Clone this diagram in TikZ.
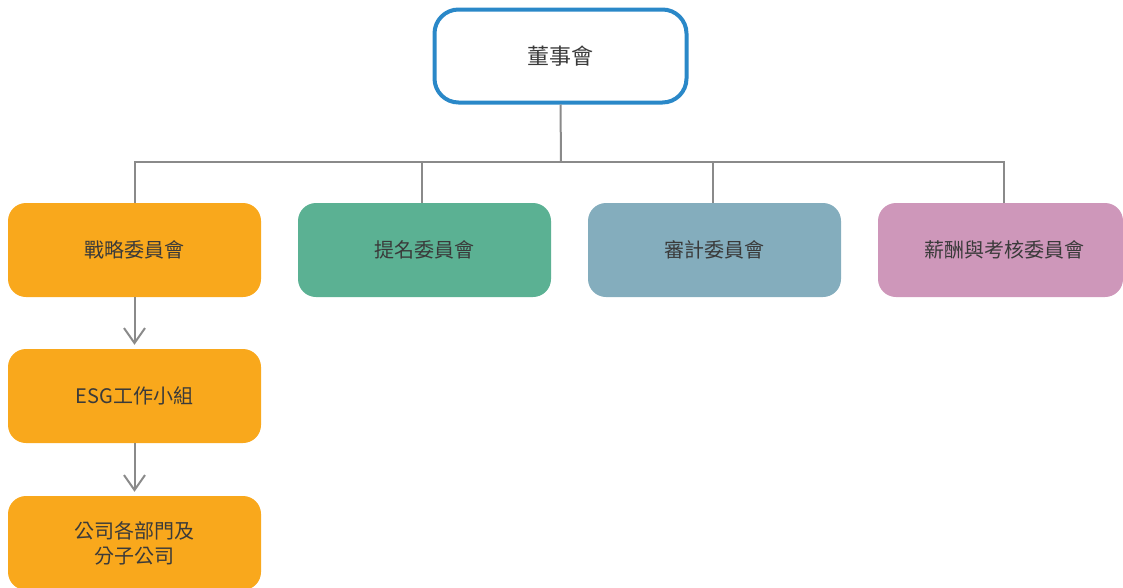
\documentclass[tikz,border=0pt]{standalone}
\usepackage{fontspec}
\newfontfamily\cjk{Noto Sans CJK TC}
\usetikzlibrary{arrows.meta}
\definecolor{topblue}{HTML}{2A88C8}
\definecolor{corange}{HTML}{F9A81C}
\definecolor{cgreen}{HTML}{5BB193}
\definecolor{cblue}{HTML}{84ADBD}
\definecolor{cpink}{HTML}{CE97BA}
\definecolor{lgray}{HTML}{8A8A8A}
\definecolor{tgray}{HTML}{3A3A3A}
\tikzset{
  boxbase/.style={rounded corners=18pt, minimum width=253pt, minimum height=94pt, inner sep=0pt,
     font=\cjk\fontsize{20pt}{25pt}\selectfont, text=tgray, align=center, anchor=center},
  topbox/.style={draw=topblue, line width=4pt, fill=white, rounded corners=24pt, minimum width=252pt,
     minimum height=93pt, inner sep=0pt, font=\cjk\fontsize{22pt}{25pt}\selectfont, text=tgray},
  conn/.style={draw=lgray, line width=2pt},
  arr/.style={conn, -{Straight Barb[length=15pt,width=20pt,line width=2pt,angle'=70]}},
}
\begin{document}
\begin{tikzpicture}[x=1pt,y=-1pt]
\useasboundingbox (0,0) rectangle (1123,587);
\begin{scope}
\clip (0,0) rectangle (1123,587);
\node[topbox] (board) at (560.5,56) {董事會};
\node[boxbase, fill=corange] (strat) at (134.5,250) {戰略委員會};
\node[boxbase, fill=cgreen] (nom) at (424.5,250) {提名委員會};
\node[boxbase, fill=cblue] (audit) at (714.5,250) {審計委員會};
\node[boxbase, fill=cpink, minimum width=245pt] (rem) at (1000.5,250) {\hspace*{7pt}薪酬與考核委員會};
\node[boxbase, fill=corange] (esg) at (134.5,396) {ESG工作小組};
\node[boxbase, fill=corange] (dept) at (134.5,543) {公司各部門及\\分子公司};
\coordinate (bus) at (561,162);
\draw[conn] (board.south) -- (bus);
\draw[conn] (strat.north) |- (bus);
\draw[conn] (bus) -| (rem.north -| 1004,0);
\draw[conn] (nom.north -| 422,0) -- (422,162);
\draw[conn] (audit.north -| 713,0) -- (713,162);
\draw[arr] (strat.south) -- ([yshift=4pt]esg.north);
\draw[arr] (esg.south) -- ([yshift=4pt]dept.north);
\end{scope}
\end{tikzpicture}
\end{document}
